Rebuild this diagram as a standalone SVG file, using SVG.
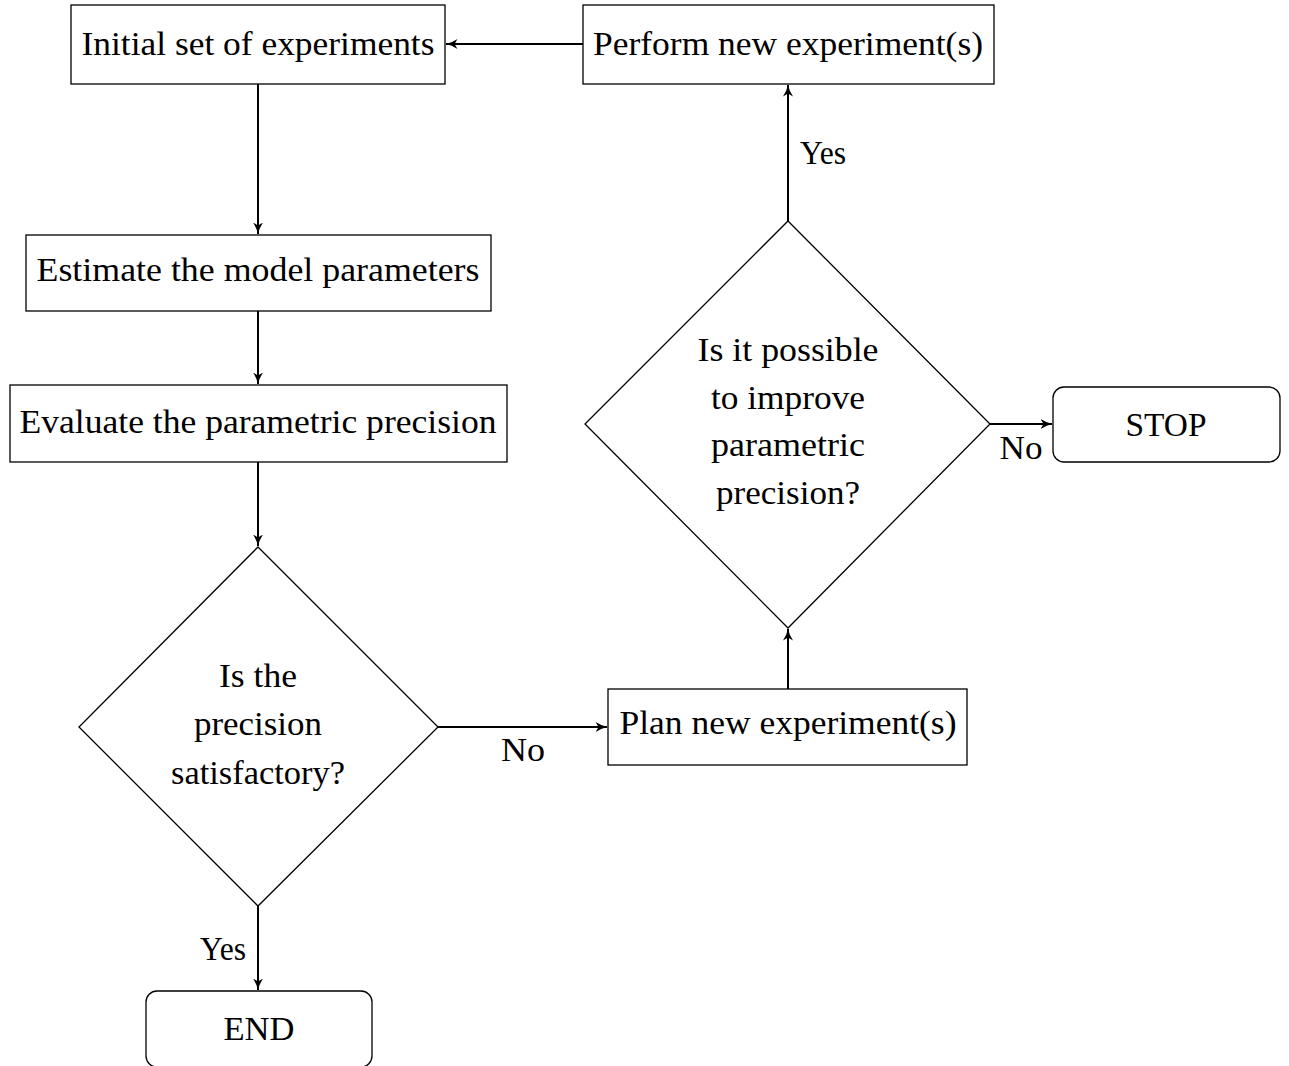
<svg xmlns="http://www.w3.org/2000/svg" width="1289" height="1066" viewBox="0 0 1289 1066">
  <style>
    .box { fill: #ffffff; stroke: #000000; stroke-width: 1.3; }
    .edge { fill: none; stroke: #000000; stroke-width: 2; }
    text { font-family: "Liberation Serif", "DejaVu Serif", serif; font-size: 33px; fill: #000000; text-anchor: middle; }
  </style>
  <defs>
    <marker id="arrow" viewBox="0 0 12 12" refX="11.5" refY="6" markerWidth="12" markerHeight="12" markerUnits="userSpaceOnUse" orient="auto">
      <path d="M0,1 Q6,5 12,6 Q6,7 0,11 L3,6 Z" fill="#000000"/>
    </marker>
  </defs>
  <rect width="1289" height="1066" fill="#ffffff"/>

  <g id="connectors">
    <line class="edge" x1="583" y1="44" x2="446" y2="44" marker-end="url(#arrow)"/>
    <line class="edge" x1="258" y1="84" x2="258" y2="234" marker-end="url(#arrow)"/>
    <line class="edge" x1="258" y1="311" x2="258" y2="384" marker-end="url(#arrow)"/>
    <line class="edge" x1="258" y1="462" x2="258" y2="546" marker-end="url(#arrow)"/>
    <line class="edge" x1="438" y1="727" x2="607" y2="727" marker-end="url(#arrow)"/>
    <line class="edge" x1="788" y1="689" x2="788" y2="629" marker-end="url(#arrow)"/>
    <line class="edge" x1="990" y1="424" x2="1052" y2="424" marker-end="url(#arrow)"/>
    <line class="edge" x1="788" y1="221" x2="788" y2="85" marker-end="url(#arrow)"/>
    <line class="edge" x1="258" y1="906" x2="258" y2="990" marker-end="url(#arrow)"/>
    <text x="523" y="761" textLength="44" lengthAdjust="spacingAndGlyphs">No</text>
    <text x="1021" y="459" textLength="43" lengthAdjust="spacingAndGlyphs">No</text>
    <text x="823" y="164" textLength="46" lengthAdjust="spacingAndGlyphs">Yes</text>
    <text x="223" y="960" textLength="46" lengthAdjust="spacingAndGlyphs">Yes</text>
  </g>

  <g id="initial">
    <rect class="box" x="71" y="5" width="374" height="79"/>
    <text x="258" y="55" textLength="353" lengthAdjust="spacingAndGlyphs">Initial set of experiments</text>
  </g>
  <g id="perform">
    <rect class="box" x="583" y="5" width="411" height="79"/>
    <text x="788" y="55" textLength="390" lengthAdjust="spacingAndGlyphs">Perform new experiment(s)</text>
  </g>
  <g id="estimate">
    <rect class="box" x="26" y="235" width="465" height="76"/>
    <text x="258" y="281" textLength="443" lengthAdjust="spacingAndGlyphs">Estimate the model parameters</text>
  </g>
  <g id="evaluate">
    <rect class="box" x="10" y="385" width="497" height="77"/>
    <text x="258" y="433" textLength="477" lengthAdjust="spacingAndGlyphs">Evaluate the parametric precision</text>
  </g>
  <g id="satisfactory">
    <polygon class="box" points="258,547 438,727 258,906 79,727"/>
    <text x="258" y="687" textLength="78" lengthAdjust="spacingAndGlyphs">Is the</text>
    <text x="258" y="735" textLength="128" lengthAdjust="spacingAndGlyphs">precision</text>
    <text x="258" y="784" textLength="174" lengthAdjust="spacingAndGlyphs">satisfactory?</text>
  </g>
  <g id="plan">
    <rect class="box" x="608" y="689" width="359" height="76"/>
    <text x="788" y="734" textLength="337" lengthAdjust="spacingAndGlyphs">Plan new experiment(s)</text>
  </g>
  <g id="improve">
    <polygon class="box" points="788,221 990,424 788,628 585,424"/>
    <text x="788" y="361" textLength="181" lengthAdjust="spacingAndGlyphs">Is it possible</text>
    <text x="788" y="409" textLength="154" lengthAdjust="spacingAndGlyphs">to improve</text>
    <text x="788" y="456" textLength="154" lengthAdjust="spacingAndGlyphs">parametric</text>
    <text x="788" y="504" textLength="144" lengthAdjust="spacingAndGlyphs">precision?</text>
  </g>
  <g id="stop">
    <rect class="box" x="1053" y="387" width="227" height="75" rx="11" ry="11"/>
    <text x="1166" y="436" textLength="81" lengthAdjust="spacingAndGlyphs">STOP</text>
  </g>
  <g id="end">
    <rect class="box" x="146" y="991" width="226" height="76" rx="11" ry="11"/>
    <text x="259" y="1040" textLength="71" lengthAdjust="spacingAndGlyphs">END</text>
  </g>
</svg>
